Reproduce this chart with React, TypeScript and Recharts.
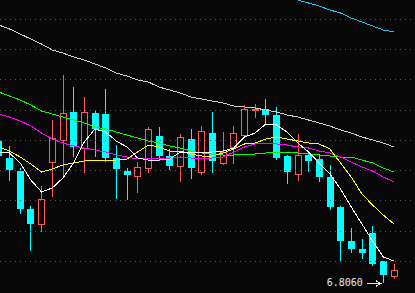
import React from 'react';
import { ComposedChart, Bar, Line, XAxis, YAxis, ReferenceLine, ReferenceDot } from 'recharts';

// daily candles, oldest first (first one is cut by the left edge)
const OPEN = [6.8628, 6.8560, 6.8508, 6.8356, 6.8292, 6.8540, 6.8628, 6.8744, 6.8596, 6.8740, 6.8736, 6.8560, 6.8508, 6.8484, 6.8516, 6.8648, 6.8568, 6.8524, 6.8636, 6.8500, 6.8660, 6.8536, 6.8600, 6.8648, 6.8750, 6.8756, 6.8732, 6.8568, 6.8492, 6.8572, 6.8556, 6.8484, 6.8364, 6.8228, 6.8196, 6.8260, 6.8148, 6.8084];
const CLOSE = [6.8568, 6.8512, 6.8356, 6.8296, 6.8396, 6.8640, 6.8740, 6.8604, 6.8744, 6.8676, 6.8560, 6.8516, 6.8492, 6.8524, 6.8676, 6.8568, 6.8528, 6.8644, 6.8520, 6.8668, 6.8548, 6.8584, 6.8660, 6.8756, 6.8754, 6.8732, 6.8560, 6.8504, 6.8572, 6.8548, 6.8484, 6.8364, 6.8228, 6.8196, 6.8180, 6.8136, 6.8092, 6.8112];
const HIGH = [6.8632, 6.8608, 6.8520, 6.8368, 6.8448, 6.8712, 6.8892, 6.8844, 6.8804, 6.8752, 6.8836, 6.8612, 6.8520, 6.8544, 6.8684, 6.8684, 6.8596, 6.8656, 6.8676, 6.8688, 6.8744, 6.8664, 6.8688, 6.8772, 6.8776, 6.8796, 6.8764, 6.8572, 6.8656, 6.8584, 6.8576, 6.8532, 6.8368, 6.8280, 6.8236, 6.8288, 6.8148, 6.8136];
const LOW = [6.8564, 6.8468, 6.8336, 6.8188, 6.8264, 6.8404, 6.8484, 6.8564, 6.8500, 6.8564, 6.8544, 6.8396, 6.8392, 6.8420, 6.8500, 6.8548, 6.8512, 6.8464, 6.8476, 6.8492, 6.8500, 6.8532, 6.8536, 6.8644, 6.8720, 6.8692, 6.8552, 6.8456, 6.8468, 6.8504, 6.8464, 6.8352, 6.8148, 6.8180, 6.8156, 6.8128, 6.8060, 6.8076];

// moving averages
const MA5 = [6.8584, 6.8580, 6.8540, 6.8472, 6.8424, 6.8440, 6.8480, 6.8540, 6.8624, 6.8676, 6.8664, 6.8628, 6.8604, 6.8560, 6.8552, 6.8552, 6.8556, 6.8584, 6.8584, 6.8580, 6.8584, 6.8588, 6.8600, 6.8644, 6.8660, 6.8696, 6.8692, 6.8664, 6.8620, 6.8584, 6.8540, 6.8496, 6.8436, 6.8364, 6.8296, 6.8228, 6.8164, 6.8148];
const MA10 = [6.8604, 6.8588, 6.8564, 6.8536, 6.8504, 6.8516, 6.8532, 6.8540, 6.8548, 6.8552, 6.8552, 6.8552, 6.8556, 6.8584, 6.8612, 6.8604, 6.8588, 6.8588, 6.8576, 6.8568, 6.8568, 6.8580, 6.8596, 6.8616, 6.8620, 6.8636, 6.8644, 6.8636, 6.8628, 6.8620, 6.8616, 6.8596, 6.8540, 6.8484, 6.8416, 6.8372, 6.8332, 6.8296];
const MA20 = [6.8736, 6.8724, 6.8708, 6.8688, 6.8660, 6.8636, 6.8620, 6.8608, 6.8600, 6.8592, 6.8584, 6.8572, 6.8564, 6.8556, 6.8560, 6.8560, 6.8560, 6.8564, 6.8560, 6.8560, 6.8560, 6.8564, 6.8584, 6.8604, 6.8616, 6.8620, 6.8616, 6.8612, 6.8604, 6.8600, 6.8588, 6.8580, 6.8564, 6.8544, 6.8524, 6.8508, 6.8484, 6.8464];
const MA30 = [6.8824, 6.8808, 6.8792, 6.8772, 6.8748, 6.8736, 6.8724, 6.8712, 6.8700, 6.8684, 6.8676, 6.8664, 6.8652, 6.8640, 6.8628, 6.8620, 6.8608, 6.8600, 6.8588, 6.8580, 6.8576, 6.8572, 6.8572, 6.8576, 6.8576, 6.8580, 6.8584, 6.8584, 6.8580, 6.8576, 6.8572, 6.8568, 6.8564, 6.8564, 6.8552, 6.8540, 6.8520, 6.8504];
const MA60 = [6.9092, 6.9076, 6.9056, 6.9036, 6.9016, 6.8992, 6.8980, 6.8964, 6.8952, 6.8936, 6.8920, 6.8900, 6.8888, 6.8872, 6.8864, 6.8844, 6.8832, 6.8820, 6.8804, 6.8796, 6.8788, 6.8780, 6.8768, 6.8764, 6.8760, 6.8752, 6.8744, 6.8732, 6.8724, 6.8712, 6.8700, 6.8688, 6.8672, 6.8660, 6.8644, 6.8632, 6.8620, 6.8604];
const MA120 = [null, null, null, null, null, null, null, null, null, null, null, null, null, null, null, null, null, null, null, null, null, null, null, null, null, null, null, 6.9204, 6.9192, 6.9180, 6.9168, 6.9152, 6.9140, 6.9120, 6.9104, 6.9088, 6.9072, 6.9064];

const GRID_LEVELS = [6.9115, 6.8994, 6.8873, 6.8752, 6.8631, 6.8510, 6.8389, 6.8268, 6.8147];
const LOW_INDEX = 36;
const LOW_LABEL = '6.8060';

const UP = '#ff5a5a';
const DOWN = '#00ffff';

const data = OPEN.map((open, i) => ({
  i,
  open,
  close: CLOSE[i],
  high: HIGH[i],
  low: LOW[i],
  range: [LOW[i], HIGH[i]],
  ma5: MA5[i],
  ma10: MA10[i],
  ma20: MA20[i],
  ma30: MA30[i],
  ma60: MA60[i],
  ma120: MA120[i],
}));

const Candle = (props: any) => {
  const { x, y, width, height, payload } = props;
  const { open, close, high, low } = payload;
  const k = height / (high - low);
  const py = (v: number) => y + (high - v) * k;
  const cx = Math.floor(x + width / 2) + 0.5;
  const hi = Math.round(py(high));
  const lo = Math.round(py(low));
  const top = Math.round(py(Math.max(open, close)));
  const bot = Math.round(py(Math.min(open, close)));
  if (close >= open) {
    return (
      <g>
        <line x1={cx} x2={cx} y1={hi} y2={top} stroke={UP} />
        <line x1={cx} x2={cx} y1={bot} y2={lo} stroke={UP} />
        <rect x={cx - 3} y={top + 0.5} width={6} height={Math.max(bot - top - 1, 1)} fill="none" stroke={UP} />
      </g>
    );
  }
  return (
    <g>
      <line x1={cx} x2={cx} y1={hi} y2={lo} stroke={DOWN} />
      <rect x={cx - 3.5} y={top} width={7} height={Math.max(bot - top, 1)} fill={DOWN} />
    </g>
  );
};

const LowMark = (props: any) => {
  const { cx, cy } = props;
  const y = Math.round(cy) + 0.5;
  const tip = cx - 2.5;
  return (
    <g>
      <text x={cx - 20.5} y={cy + 3} textAnchor="end" fontFamily="DejaVu Sans Mono" fontSize={10} fill="#e8e8e8">
        {LOW_LABEL}
      </text>
      <line x1={cx - 16} x2={tip} y1={y} y2={y} stroke="#e8e8e8" />
      <path d={`M${tip - 5},${y - 3} L${tip},${y} L${tip - 5},${y + 3}`} fill="none" stroke="#e8e8e8" />
    </g>
  );
};

export default function App() {
  return (
    <div style={{ width: 415, height: 293, background: '#080808' }}>
      <style>{'body{margin:0;background:#080808} svg path, svg line, svg rect{shape-rendering:crispEdges}'}</style>
      <ComposedChart width={415} height={293} data={data} margin={{ top: 0, right: 0, bottom: 0, left: 0 }}>
        <XAxis dataKey="i" type="number" domain={[0.1124, 38.97]} allowDataOverflow hide />
        <YAxis type="number" domain={[6.802, 6.9192]} allowDataOverflow hide />
        {GRID_LEVELS.map((v) => (
          <ReferenceLine key={v} y={v} stroke="#5a5a5a" strokeDasharray="1 4" />
        ))}
        <Bar dataKey="range" barSize={7} shape={<Candle />} isAnimationActive={false} />
        <Line dataKey="ma60" stroke="#d0d0d0" dot={false} strokeWidth={1} isAnimationActive={false} />
        <Line dataKey="ma120" stroke="#20c8f0" dot={false} strokeWidth={1} isAnimationActive={false} />
        <Line dataKey="ma30" stroke="#00ff00" dot={false} strokeWidth={1} isAnimationActive={false} />
        <Line dataKey="ma20" stroke="#ff00ff" dot={false} strokeWidth={1} isAnimationActive={false} />
        <Line dataKey="ma10" stroke="#ffff00" dot={false} strokeWidth={1} isAnimationActive={false} />
        <Line dataKey="ma5" stroke="#ffffff" dot={false} strokeWidth={1} isAnimationActive={false} />
        <ReferenceDot x={LOW_INDEX} y={LOW[LOW_INDEX]} r={0} shape={(p: any) => <LowMark {...p} />} />
      </ComposedChart>
    </div>
  );
}
